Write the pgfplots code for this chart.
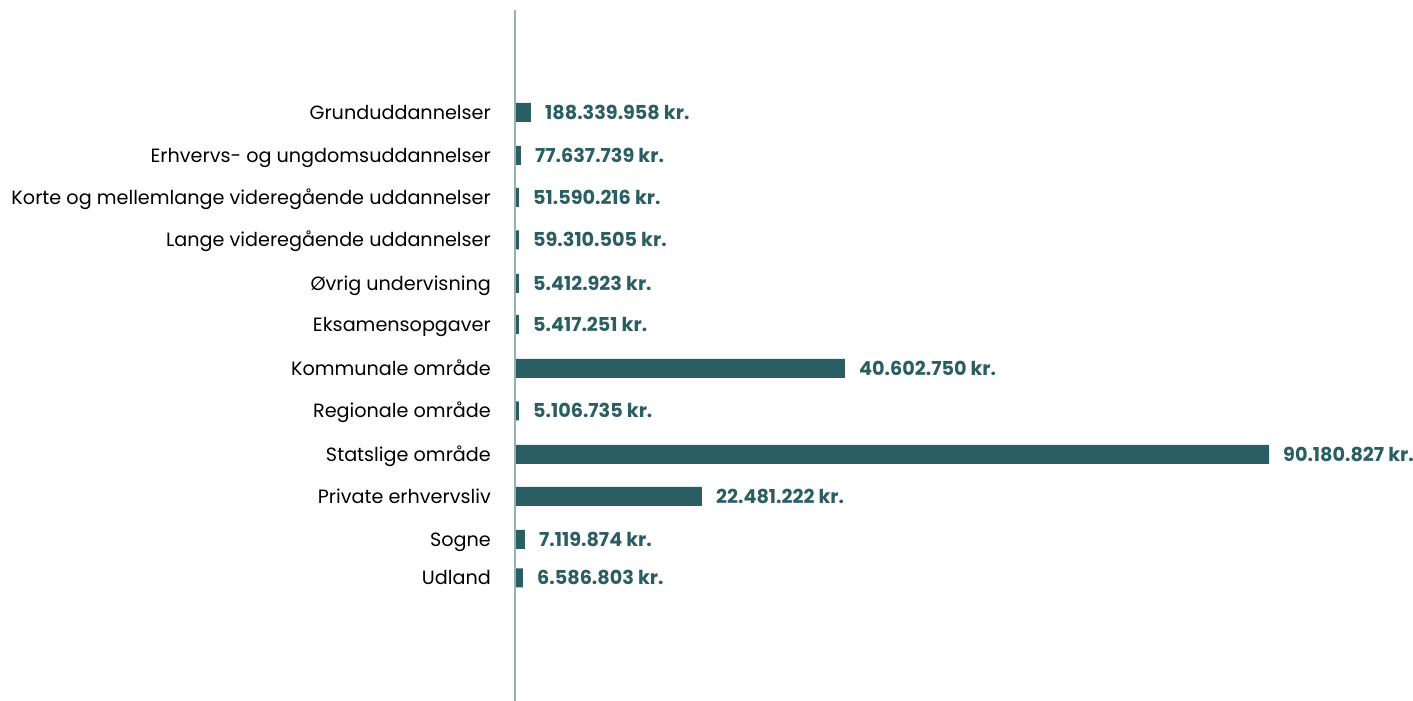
\documentclass[border=0pt]{standalone}
\usepackage{pgfplots}
\pgfplotsset{compat=1.18}
\usepackage{fontspec}
\setmainfont{Poppins}
\definecolor{barc}{HTML}{2B5E63}
\definecolor{axc}{HTML}{94B1B3}
\begin{document}
\begin{tikzpicture}
\begin{axis}[
  name=ax,
  scale only axis,
  width=898pt, height=701pt,
  xmin=0, xmax=898, ymin=-701, ymax=0,
  axis x line=none,
  axis y line=left,
  y axis line style={draw=none},
  major tick length=0pt,
  xbar, bar width=19pt,
  ytick={-112.5,-155.5,-197.5,-240,-283.5,-324.5,-368.5,-411,-454.5,-496.5,-539.5,-578},
  yticklabels={Grunduddannelser,Erhvervs- og ungdomsuddannelser,Korte og mellemlange videregående uddannelser,Lange videregående uddannelser,Øvrig undervisning,Eksamensopgaver,Kommunale område,Regionale område,Statslige område,Private erhvervsliv,Sogne,Udland},
  yticklabel style={font=\fontsize{19.2}{22}\selectfont, inner sep=0pt, anchor=base east, xshift=-24pt, yshift=-6.7pt},
  clip=false,
  nodes near coords,
  point meta=explicit symbolic,
  every node near coord/.append style={font=\fontsize{19.2}{22}\selectfont\bfseries, text=barc, anchor=base west, inner sep=0pt, xshift=14pt, yshift=-6.7pt},
]
\addplot[fill=barc, draw=none] coordinates {
  (16,-112.5) [188.339.958 kr.]
  (6,-155.5) [77.637.739 kr.]
  (4,-197.5) [51.590.216 kr.]
  (4,-240) [59.310.505 kr.]
  (4,-283.5) [5.412.923 kr.]
  (4,-324.5) [5.417.251 kr.]
  (330,-368.5) [40.602.750 kr.]
  (4,-411) [5.106.735 kr.]
  (754,-454.5) [90.180.827 kr.]
  (187,-496.5) [22.481.222 kr.]
  (10,-539.5) [7.119.874 kr.]
  (8,-578) [6.586.803 kr.]
};
\draw[axc, line width=2pt] (axis cs:0,-10) -- (axis cs:0,-701);
\end{axis}
\pgfresetboundingbox
\path ([xshift=-515pt]ax.north west) rectangle (ax.south east);
\end{tikzpicture}
\end{document}
